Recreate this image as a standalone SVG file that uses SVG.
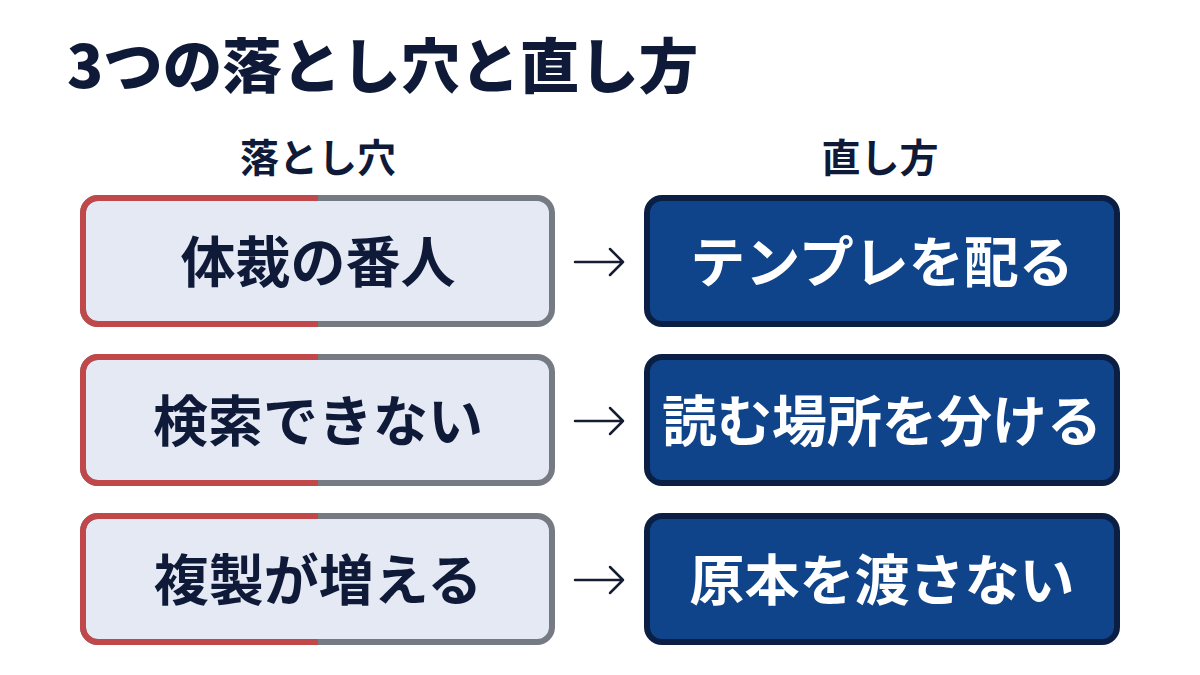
<svg xmlns="http://www.w3.org/2000/svg" width="1200" height="675" viewBox="0 0 1200 675">
<defs>
<style>
text{font-family:"Noto Sans CJK JP","Noto Sans",sans-serif;}
.title{font-size:59.5px;font-weight:900;fill:#0e1a38;}
.head{font-size:39px;font-weight:700;fill:#0e1a38;text-anchor:middle;}
.lt{font-size:55px;font-weight:700;fill:#0e1a38;text-anchor:middle;}
.rt{font-size:55px;font-weight:700;fill:#ffffff;text-anchor:middle;}
.lbox{fill:#e5e9f3;stroke:#767a83;stroke-width:6;}
.lred{fill:none;stroke:#c0484a;stroke-width:6;}
.rbox{fill:#10448a;stroke:#0b1f45;stroke-width:6;}
.arr{fill:none;stroke:#141d33;stroke-width:2.5;stroke-linecap:round;stroke-linejoin:round;}
</style>
<clipPath id="leftHalf"><rect x="0" y="0" width="318" height="675"/></clipPath>
</defs>
<rect width="1200" height="675" fill="#ffffff"/>
<text class="title" x="67" y="88">3つの落とし穴と直し方</text>
<g id="headers">
<text class="head" x="318" y="172">落とし穴</text>
<text class="head" x="880" y="172">直し方</text>
</g>
<g id="pit1">
<rect class="lbox" x="83" y="198" width="469" height="126" rx="15"/>
<rect class="lred" x="83" y="198" width="469" height="126" rx="15" clip-path="url(#leftHalf)"/>
<text class="lt" x="318" y="282">体裁の番人</text>
</g>
<g id="pit2">
<rect class="lbox" x="83" y="357" width="469" height="126" rx="15"/>
<rect class="lred" x="83" y="357" width="469" height="126" rx="15" clip-path="url(#leftHalf)"/>
<text class="lt" x="318" y="441">検索できない</text>
</g>
<g id="pit3">
<rect class="lbox" x="83" y="516" width="469" height="126" rx="15"/>
<rect class="lred" x="83" y="516" width="469" height="126" rx="15" clip-path="url(#leftHalf)"/>
<text class="lt" x="318" y="600">複製が増える</text>
</g>
<g id="fix1">
<rect class="rbox" x="647" y="198" width="470" height="126" rx="15"/>
<text class="rt" x="882" y="282">テンプレを配る</text>
</g>
<g id="fix2">
<rect class="rbox" x="647" y="357" width="470" height="126" rx="15"/>
<text class="rt" x="882" y="441">読む場所を分ける</text>
</g>
<g id="fix3">
<rect class="rbox" x="647" y="516" width="470" height="126" rx="15"/>
<text class="rt" x="882" y="600">原本を渡さない</text>
</g>
<g id="connectors">
<path class="arr" d="M575 262H623M610 249L623 262L610 275"/>
<path class="arr" d="M575 421H623M610 408L623 421L610 434"/>
<path class="arr" d="M575 580H623M610 567L623 580L610 593"/>
</g>
</svg>
